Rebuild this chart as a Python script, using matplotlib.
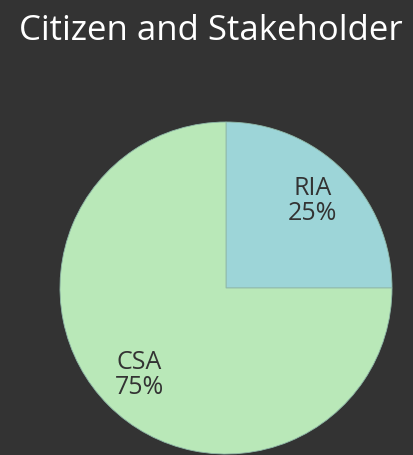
import matplotlib
matplotlib.use("Agg")
from matplotlib import pyplot as plt

# data
labels = ['RIA', 'CSA']
shares = [25, 75]
colors = ['#9dd5d8', '#b9e8b8']

BG = '#333333'

fig = plt.figure(figsize=(4.13, 4.55), dpi=100, facecolor=BG)
fig.text(19 / 413, 1 - 31 / 455, 'Citizen and Stakeholder', color='white',
         fontsize=25, family='Open Sans', fontweight='medium',
         ha='left', va='center')

# pie centre ~ (226, 288) px, radius ~166 px
cx, cy, r = 226, 288, 166
ax = fig.add_axes([(cx - r) / 413, (455 - cy - r) / 455, 2 * r / 413, 2 * r / 455])
ax.set_facecolor(BG)

idx = iter(range(len(labels)))


def fmt(pct):
    i = next(idx)
    return '%s\n%d%%' % (labels[i], round(pct))


ax.pie(shares, colors=colors, startangle=90, counterclock=False,
       autopct=fmt, pctdistance=0.74,
       wedgeprops=dict(edgecolor='#8fb8a8', linewidth=0.6),
       textprops=dict(color='#333333', fontsize=18, family='Open Sans',
                      fontweight='medium', linespacing=1.0))
ax.set_xlim(-1, 1)
ax.set_ylim(-1, 1)
ax.set_aspect('equal')
ax.axis('off')

fig.savefig('out.png', dpi=100, facecolor=BG)
